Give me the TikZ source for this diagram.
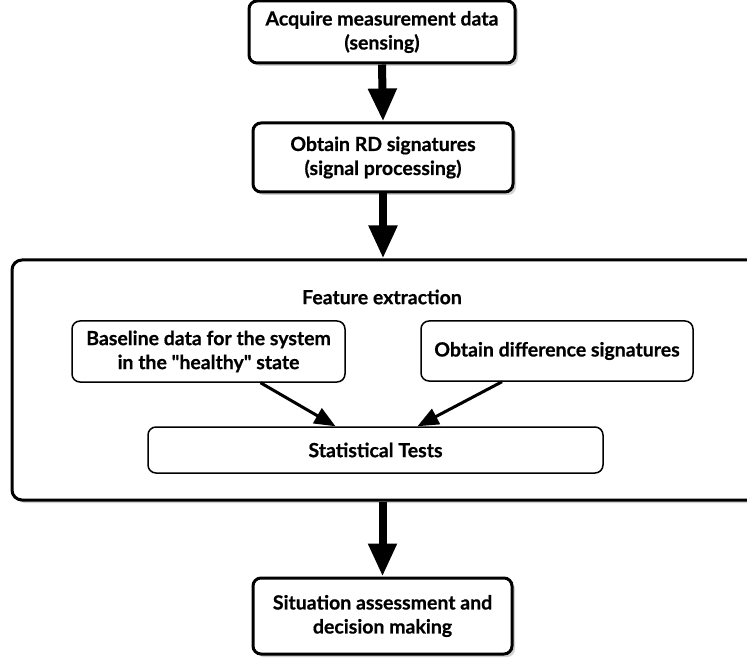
\documentclass[tikz,border=0pt]{standalone}
\usepackage{fontspec}
\setmainfont{Lato}[BoldFeatures={FakeBold=0.6}]
\newcommand{\sq}{{\addfontfeatures{Ligatures=TeXOff}"}}
\usetikzlibrary{arrows.meta,shadows}
\begin{document}
\begin{tikzpicture}[x=1pt,y=-1pt,
  txt/.style={font=\fontsize{19.5}{24}\selectfont\bfseries, align=center},
  mainbox/.style={txt, draw, line width=3pt, rounded corners=8pt, fill=white, inner sep=0pt,
    drop shadow={shadow xshift=3pt, shadow yshift=-3pt, fill=black!35}},
  outerbox/.style={draw, line width=3pt, rounded corners=10pt, fill=white, inner sep=0pt,
    drop shadow={shadow xshift=3pt, shadow yshift=-3pt, fill=black!35}},
  subbox/.style={txt, draw, line width=1.5pt, rounded corners=8pt, fill=white, inner sep=0pt},
  bigarrow/.style={line width=8pt, -{Triangle[width=27pt,length=33pt]}},
  smallarrow/.style={line width=3pt, -{Triangle[width=17pt,length=21pt]}}
]
\useasboundingbox (0,0) rectangle (747,660);
\fill[white] (0,0) rectangle (747,660);

\node[mainbox, minimum width=266pt, minimum height=62pt] (acq) at (382,32) {Acquire measurement data\\(sensing)};
\node[mainbox, minimum width=260pt, minimum height=69pt] (rd) at (383,157.5) {Obtain RD signatures\\(signal processing)};
\node[outerbox, minimum width=758pt, minimum height=240pt] (fe) at (391,380) {};
\node[txt] (fet) at (382,297) {Feature extraction};
\node[subbox, minimum width=273pt, minimum height=61pt] (base) at (208.5,351.5) {Baseline data for the system\\in the \sq healthy\sq{} state};
\node[subbox, minimum width=272pt, minimum height=60pt] (diff) at (557,351) {Obtain difference signatures};
\node[subbox, minimum width=455pt, minimum height=46pt] (stat) at (375.5,450) {Statistical Tests};
\node[mainbox, minimum width=259pt, minimum height=76pt] (sit) at (382.5,616) {Situation assessment and\\decision making};

\draw[bigarrow] (acq.south) -- (rd.north);
\draw[bigarrow] (rd.south) -- (rd.south |- fe.north);
\draw[bigarrow] (sit.north |- fe.south) -- (sit.north);
\draw[smallarrow] ([xshift=52pt]base.south) -- ([xshift=-40pt]stat.north);
\draw[smallarrow] ([xshift=-55pt]diff.south) -- ([xshift=42pt]stat.north);
\end{tikzpicture}
\end{document}
